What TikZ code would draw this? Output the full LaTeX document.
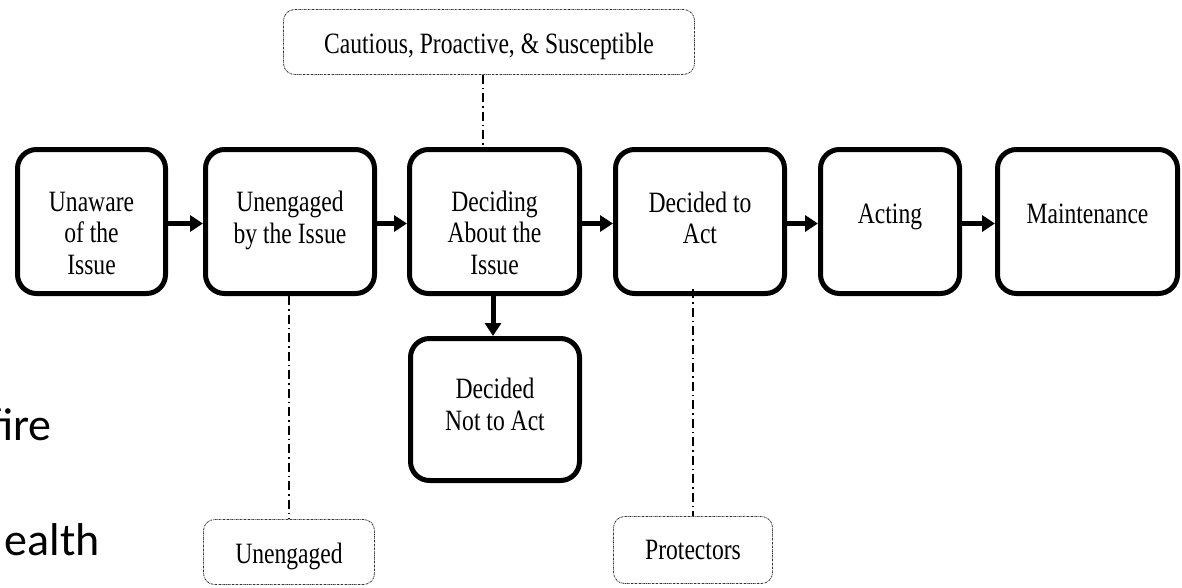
\documentclass[tikz,border=0pt]{standalone}
\usepackage{fontspec}
\setmainfont[FakeStretch=0.8]{Liberation Serif}
\newfontfamily\slidefont{Carlito}
\usetikzlibrary{arrows.meta}
\begin{document}
\begin{tikzpicture}[x=1pt,y=-1pt,
  stagebox/.style={draw, line width=5pt, rounded corners=19pt, inner sep=0pt, minimum height=144pt},
  notebox/.style={draw=black!80, line width=0.8pt, rounded corners=11pt, inner sep=0pt,
    dash pattern=on 2pt off 0.8pt on 0.6pt off 0.8pt},
  lbl/.style={anchor=base, align=center, inner sep=0pt, font=\fontsize{29.5}{31.5}\selectfont},
  flow/.style={line width=5pt, -{Triangle[length=13pt,width=16pt]}},
  conn/.style={line width=1.4pt, dash pattern=on 9pt off 4pt on 1.5pt off 4pt},
  slide/.style={anchor=base east, inner sep=0pt, font=\slidefont\fontsize{46}{50}\selectfont}
]
\useasboundingbox (0,0) rectangle (1182,587);

% main stages
\node[stagebox, minimum width=148pt] (b1) at (91.5,221.5) {};
\node[stagebox, minimum width=169pt] (b2) at (290,221.5) {};
\node[stagebox, minimum width=170pt] (b3) at (494.5,221.5) {};
\node[stagebox, minimum width=169pt] (b4) at (700,221.5) {};
\node[stagebox, minimum width=139pt] (b5) at (890,221.5) {};
\node[stagebox, minimum width=180pt] (b6) at (1087.5,221.5) {};
\node[stagebox, minimum width=169pt, minimum height=142pt] (dna) at (495,409.5) {};

% labels: base anchor = baseline of last line
\node[lbl] (t1) at (91.5,274) {Unaware\\of the\\Issue};
\node[lbl] (t2) at (290,243) {Unengaged\\by the Issue};
\node[lbl] (t3) at (494.5,274) {Deciding\\About the\\Issue};
\node[lbl] (t4) at (700,243.5) {Decided to\\Act};
\node[lbl] (t5) at (890,223.3) {Acting};
\node[lbl] (t6) at (1087.5,223.3) {Maintenance};
\node[lbl] (t7) at (495,430) {Decided\\Not to Act};

% segment boxes
\node[notebox, minimum width=411pt, minimum height=65pt] (top) at (489,42) {};
\node[lbl] (toptext) at (489,53) {Cautious, Proactive, \& Susceptible};
\node[notebox, minimum width=171pt, minimum height=65pt] (uneng) at (289,552) {};
\node[lbl] (unengtext) at (289,563) {Unengaged};
\node[notebox, minimum width=159pt, minimum height=67pt] (prot) at (693,550) {};
\node[lbl] (prottext) at (693,559) {Protectors};

% flow arrows
\draw[flow] ([yshift=-2pt]b1.east) -- ([yshift=-2pt]b2.west);
\draw[flow] ([yshift=-2pt]b2.east) -- ([yshift=-2pt]b3.west);
\draw[flow] ([yshift=-2pt]b3.east) -- ([yshift=-2pt]b4.west);
\draw[flow] ([yshift=-2pt]b4.east) -- ([yshift=-2pt]b5.west);
\draw[flow] ([yshift=-2pt]b5.east) -- ([yshift=-2pt]b6.west);
\draw[flow] ([xshift=-1.5pt]b3.south) -- ([xshift=-1.5pt]b3.south |- dna.north);

% dash-dot connectors
\draw[conn] ([xshift=-6pt]top.south) -- ([xshift=-6pt]top.south |- b3.north);
\draw[conn] (uneng.north |- b2.south) -- (uneng.north);
\draw[conn] ([yshift=7pt]prot.north |- b4.south) -- (prot.north);

% slide text behind
\node[slide] (fire) at (52,440) {fire};
\node[slide] (health) at (100,555) {ealth};
\end{tikzpicture}
\end{document}
